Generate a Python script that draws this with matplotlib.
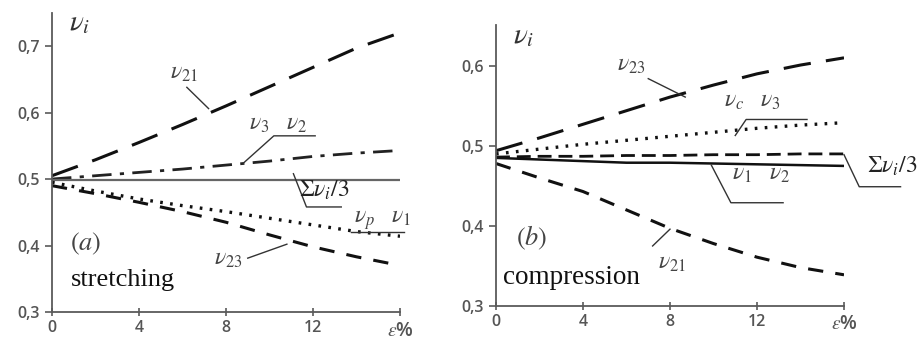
import numpy as np
import matplotlib
matplotlib.use("Agg")
import matplotlib.pyplot as plt
from matplotlib.ticker import FuncFormatter

plt.rcParams["mathtext.fontset"] = "stix"

# strain, %
eps = [0, 2, 4, 6, 8, 10, 12, 14, 16]

# (a) stretching
st_v21 = [0.505, 0.529, 0.555, 0.582, 0.610, 0.639, 0.668, 0.697, 0.720]
st_v32 = [0.500, 0.505, 0.510, 0.515, 0.521, 0.527, 0.534, 0.539, 0.543]
st_sum = [0.499, 0.499, 0.499, 0.499, 0.499, 0.499, 0.499, 0.499, 0.499]
st_vp1 = [0.495, 0.482, 0.470, 0.460, 0.451, 0.441, 0.431, 0.421, 0.414]
st_v23 = [0.490, 0.478, 0.465, 0.451, 0.435, 0.416, 0.398, 0.383, 0.370]

# (b) compression
cp_v23 = [0.494, 0.510, 0.527, 0.544, 0.561, 0.576, 0.590, 0.601, 0.610]
cp_vc3 = [0.490, 0.496, 0.502, 0.507, 0.512, 0.517, 0.522, 0.526, 0.529]
cp_sum = [0.486, 0.487, 0.487, 0.488, 0.488, 0.489, 0.489, 0.490, 0.490]
cp_v12 = [0.485, 0.483, 0.481, 0.479, 0.479, 0.478, 0.477, 0.476, 0.475]
cp_v21 = [0.478, 0.460, 0.443, 0.420, 0.397, 0.378, 0.361, 0.348, 0.339]

xticks = [0, 4, 8, 12]
yticks_a = [0.3, 0.4, 0.5, 0.6, 0.7]
yticks_b = [0.3, 0.4, 0.5, 0.6]

AX = "#5a5a5a"
TXT = "#555555"
times = ["Liberation Serif"]

fig = plt.figure(figsize=(9.17, 3.45), dpi=100)
ax1 = fig.add_axes([0.0567, 0.0957, 0.3795, 0.867])
ax2 = fig.add_axes([0.5409, 0.113, 0.3795, 0.8145])


def style(ax, ylim, yticks):
    ax.set_xlim(0, 16)
    ax.set_ylim(*ylim)
    for s in ["top", "right"]:
        ax.spines[s].set_visible(False)
    for s in ["left", "bottom"]:
        ax.spines[s].set_color(AX)
        ax.spines[s].set_linewidth(1.3)
    ax.set_xticks(xticks + [16])
    ax.set_xticklabels(["0", "4", "8", "12", ""])
    ax.set_yticks(yticks)
    ax.yaxis.set_major_formatter(FuncFormatter(lambda v, p: f"{v:.1f}".replace(".", ",")))
    ax.tick_params(axis="x", direction="inout", length=6, width=1.2, color=AX,
                   labelcolor=TXT, labelsize=11.5, pad=3)
    ax.tick_params(axis="y", direction="out", length=5, width=1.2, color=AX,
                   labelcolor=TXT, labelsize=11.5, pad=4)
    for t in ax.get_xticklabels() + ax.get_yticklabels():
        t.set_family("Open Sans")
        t.set_fontweight("semibold")
    ax.text(16, -0.03, r"$\varepsilon$%", transform=ax.get_xaxis_transform(),
            ha="center", va="top", fontsize=14, color=TXT, family="Open Sans",
            fontweight="semibold")
    ax.text(0.05, 1.015, r"$\nu_i$", transform=ax.transAxes, ha="left", va="top",
            fontsize=21, color="#333333")


def leader(ax, pts):
    xs, ys = zip(*pts)
    ax.plot(xs, ys, color="#333333", lw=1.0, clip_on=False)


style(ax1, (0.3, 0.75), yticks_a)
style(ax2, (0.3, 0.651), yticks_b)

# (a) curves
ax1.plot(eps, st_v21, color="#111111", lw=2.2, dashes=(9, 5))
ax1.plot(eps, st_v32, color="#222222", lw=2.0, dashes=(7, 3, 1.5, 3))
ax1.plot(eps, st_sum, color="#666666", lw=1.6)
ax1.plot(eps, st_vp1, color="#111111", lw=2.4, dashes=(0.8, 2.2))
ax1.plot(eps, st_v23, color="#111111", lw=2.2, dashes=(5, 4))

kw = dict(color="#444444", ha="center", va="center")
ax1.text(6.05, 0.661, r"$\nu_{21}$", fontsize=17, **kw)
leader(ax1, [(6.2, 0.638), (7.2, 0.606)])
ax1.text(10.4, 0.585, r"$\nu_3\ \ \ \nu_2$", fontsize=17, **kw)
leader(ax1, [(12.1, 0.565), (10.2, 0.565), (8.8, 0.524)])
ax1.text(12.5, 0.484, r"$\Sigma\nu_i/3$", fontsize=17, color="#222222", ha="center", va="center")
leader(ax1, [(11.1, 0.508), (11.7, 0.458), (13.3, 0.458)])
ax1.text(15.2, 0.439, r"$\nu_p\ \ \ \nu_1$", fontsize=17, **kw)
leader(ax1, [(13.75, 0.420), (16.2, 0.420)])
ax1.text(8.1, 0.381, r"$\nu_{23}$", fontsize=17, **kw)
leader(ax1, [(9.0, 0.381), (10.8, 0.402)])
ax1.text(0.85, 0.403, r"$(a)$", fontsize=19, color="#444444", ha="left", va="center")
ax1.text(0.85, 0.348, "stretching", fontsize=19, color="#111111", family=times,
         ha="left", va="center")

# (b) curves
ax2.plot(eps, cp_v23, color="#111111", lw=2.2, dashes=(9, 5))
ax2.plot(eps, cp_vc3, color="#111111", lw=2.4, dashes=(0.8, 2.2))
ax2.plot(eps, cp_sum, color="#111111", lw=2.0, dashes=(5, 2.5))
ax2.plot(eps, cp_v12, color="#111111", lw=1.8)
ax2.plot(eps, cp_v21, color="#111111", lw=2.2, dashes=(5, 4))

ax2.text(6.2, 0.602, r"$\nu_{23}$", fontsize=17, **kw)
leader(ax2, [(7.0, 0.584), (8.7, 0.561)])
ax2.text(11.8, 0.557, r"$\nu_c\ \ \ \nu_3$", fontsize=17, **kw)
leader(ax2, [(14.3, 0.533), (11.5, 0.533), (11.0, 0.513)])
ax2.text(18.2, 0.475, r"$\Sigma\nu_i/3$", fontsize=17, color="#222222",
         ha="center", va="center", clip_on=False)
leader(ax2, [(16.0, 0.489), (16.7, 0.449), (18.6, 0.449)])
ax2.text(12.2, 0.466, r"$\nu_1\ \ \ \nu_2$", fontsize=17, **kw)
leader(ax2, [(9.9, 0.476), (10.8, 0.429), (13.2, 0.429)])
ax2.text(8.1, 0.355, r"$\nu_{21}$", fontsize=17, **kw)
leader(ax2, [(7.2, 0.375), (8.0, 0.396)])
ax2.text(0.9, 0.385, r"$(b)$", fontsize=19, color="#444444", ha="left", va="center")
ax2.text(0.3, 0.335, "compression", fontsize=19.5, color="#111111", family=times,
         ha="left", va="center")

fig.savefig("out.png", dpi=100)
